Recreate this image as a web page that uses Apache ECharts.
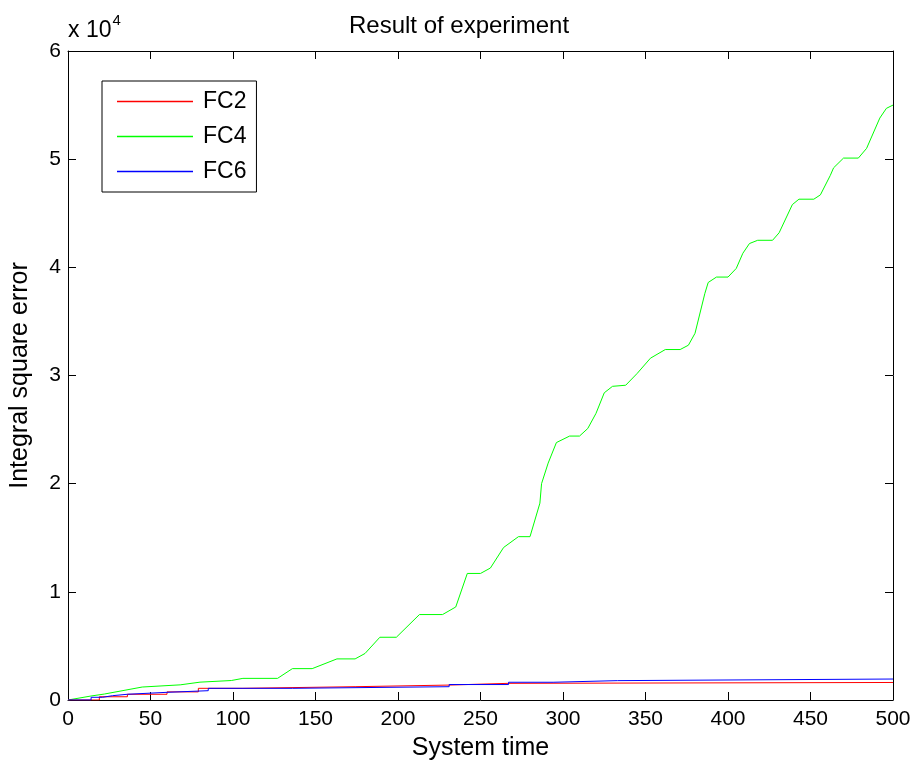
<!DOCTYPE html>
<html>
<head>
<meta charset="utf-8">
<script src="https://cdn.jsdelivr.net/npm/echarts@6/dist/echarts.min.js"></script>
<style>
html,body{margin:0;padding:0;background:#fff;}
#chart{width:918px;height:767px;}
</style>
</head>
<body>
<div id="chart"></div>
<script>
// ---- Data ----
const fc2Time  = [0, 19, 36, 60, 79, 106, 174, 231, 267, 500];
const fc2Value = [0, 300, 530, 750, 1080, 1230, 1380, 1540, 1620, 1620];

const fc4Time  = [0, 14, 22, 45, 68, 80, 99, 106, 127, 136, 148, 163, 174, 180, 189, 199, 213, 227, 235, 242, 250,
                  256, 264, 273, 280, 286, 287, 291, 296, 304, 310, 315, 320, 325, 330, 338, 345, 353, 362, 371,
                  376, 380, 386, 388, 393, 400, 405, 409, 413, 418, 427, 431, 439, 443, 452, 456, 462, 464, 470,
                  479, 484, 492, 496, 500];
const fc4Value = [0, 370, 550, 1200, 1400, 1650, 1800, 2000, 2000, 2900, 2900, 3800, 3800, 4300, 5800, 5800, 7900, 7900, 8600, 11700, 11700,
                  12200, 14100, 15100, 15100, 18200, 20000, 21900, 23800, 24400, 24400, 25100, 26500, 28400, 29000, 29100, 30200, 31600, 32400, 32400,
                  32800, 33900, 37600, 38600, 39100, 39100, 39900, 41300, 42200, 42500, 42500, 43200, 45800, 46300, 46300, 46700, 48500, 49200, 50100,
                  50100, 51000, 53800, 54700, 55000];

const fc6Time  = [0, 14, 21, 27, 36, 60, 85, 136, 231, 267, 294, 333, 500];
const fc6Value = [0, 250, 400, 530, 710, 860, 1080, 1230, 1430, 1640, 1790, 1940, 1940];

const xTicks = [0, 50, 100, 150, 200, 250, 300, 350, 400, 450, 500];
const yTickLabels = ['0', '1', '2', '3', '4', '5', '6'];

const seriesNames = ['FC2', 'FC4', 'FC6'];

function zip(a, b) { return a.map((v, i) => [v, b[i]]); }

const FONT = 'Liberation Sans, Arial, Helvetica, sans-serif';
const chart = echarts.init(document.getElementById('chart'), null, {renderer: 'canvas'});

const axisCommon = {
  axisLine: {show: true, onZero: false, lineStyle: {color: '#000', width: 1}},
  axisTick: {show: true, inside: true, length: 8, lineStyle: {color: '#000', width: 1}},
  splitLine: {show: false}
};

chart.setOption({
  backgroundColor: '#fff',
  animation: false,
  title: {
    text: 'Result of experiment',
    left: 'center',
    top: 9,
    textStyle: {fontFamily: FONT, fontSize: 24, fontWeight: 'normal', color: '#000'}
  },
  grid: {left: 68, right: 25, top: 51, bottom: 67, containLabel: false},
  legend: {
    orient: 'vertical',
    left: 102,
    top: 81,
    padding: [9, 10, 9, 15],
    itemGap: 12,
    itemWidth: 76,
    itemHeight: 1.5,
    icon: 'rect',
    backgroundColor: '#fff',
    borderColor: '#000',
    borderWidth: 1,
    borderRadius: 0,
    textStyle: {fontFamily: FONT, fontSize: 23, color: '#000', padding: [0, 0, 0, 5]},
    data: seriesNames
  },
  xAxis: [
    Object.assign({}, axisCommon, {
      type: 'value', position: 'bottom', min: 0, max: 500, interval: 50,
      name: 'System time', nameLocation: 'middle', nameGap: 36,
      nameTextStyle: {fontFamily: FONT, fontSize: 25, color: '#000'},
      axisLabel: {fontFamily: FONT, fontSize: 21, color: '#000', margin: 9,
        formatter: v => (xTicks.indexOf(v) >= 0 ? String(v) : '')}
    }),
    Object.assign({}, axisCommon, {
      type: 'value', position: 'top', min: 0, max: 500, interval: 50,
      axisLabel: {show: false}
    })
  ],
  yAxis: [
    Object.assign({}, axisCommon, {
      type: 'value', position: 'left', min: 0, max: 60000, interval: 10000,
      name: 'Integral square error', nameLocation: 'middle', nameGap: 35,
      nameTextStyle: {fontFamily: FONT, fontSize: 25, color: '#000'},
      axisLabel: {fontFamily: FONT, fontSize: 21, color: '#000', margin: 7,
        formatter: v => yTickLabels[Math.round(v / 10000)]}
    }),
    Object.assign({}, axisCommon, {
      type: 'value', position: 'right', min: 0, max: 60000, interval: 10000,
      axisLabel: {show: false}
    })
  ],
  graphic: [{
    type: 'text',
    left: 68,
    top: 13,
    style: {
      text: '{b|x 10}{sup|4}',
      fill: '#000',
      rich: {
        b: {fontFamily: FONT, fontSize: 23, fill: '#000', color: '#000', verticalAlign: 'bottom'},
        sup: {fontFamily: FONT, fontSize: 15, fill: '#000', color: '#000', verticalAlign: 'top', padding: [0, 0, 14, 1]}
      }
    }
  }],
  series: [
    {name: 'FC2', type: 'line', step: 'end', showSymbol: false, symbol: 'none',
     lineStyle: {color: '#ff0000', width: 1}, itemStyle: {color: '#ff0000'},
     data: zip(fc2Time, fc2Value), z: 3},
    {name: 'FC4', type: 'line', showSymbol: false, symbol: 'none',
     lineStyle: {color: '#00ff00', width: 1}, itemStyle: {color: '#00ff00'},
     data: zip(fc4Time, fc4Value), z: 2},
    {name: 'FC6', type: 'line', step: 'end', showSymbol: false, symbol: 'none',
     lineStyle: {color: '#0000ff', width: 1}, itemStyle: {color: '#0000ff'},
     data: zip(fc6Time, fc6Value), z: 4}
  ]
});
</script>
</body>
</html>
